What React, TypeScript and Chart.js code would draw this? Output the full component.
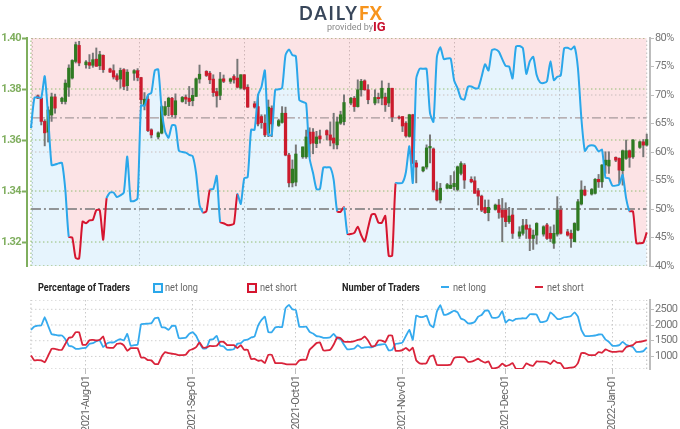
import { useEffect, useRef } from "react"
import { Chart, registerables } from "chart.js"

Chart.register(...registerables)

// x axis is "days since 2021-08-01", so month grid lines fall where they should
const firstDay = -16
const lastDay = 163
const monthDays = [0, 31, 61, 92, 122, 153]
const monthLabels = ["2021-Aug-01", "2021-Sep-01", "2021-Oct-01", "2021-Nov-01", "2021-Dec-01", "2022-Jan-01"]

const priceTicks = [1.32, 1.34, 1.36, 1.38, 1.4]
const percentTicks = [40, 45, 50, 55, 60, 65, 70, 75, 80]
const traderTicks = [1000, 1500, 2000, 2500]

// candles, one line per week (Sunday to Friday)
const candleDays = [
  -14, -13, -12, -11, -10, -9, -7, -6, -5, -4, -3, -2, 0, 1, 2, 3, 4, 5, 7, 8, 9, 10, 11, 12,
  14, 15, 16, 17, 18, 19, 21, 22, 23, 24, 25, 26, 28, 29, 30, 31, 32, 33, 35, 36, 37, 38, 39, 40,
  42, 43, 44, 45, 46, 47, 49, 50, 51, 52, 53, 54, 56, 57, 58, 59, 60, 61, 63, 64, 65, 66, 67, 68,
  70, 71, 72, 73, 74, 75, 77, 78, 79, 80, 81, 82, 84, 85, 86, 87, 88, 89, 91, 92, 93, 94, 95, 96,
  98, 99, 100, 101, 102, 103, 105, 106, 107, 108, 109, 110, 112, 113, 114, 115, 116, 117,
  119, 120, 121, 122, 123, 124, 126, 127, 128, 129, 130, 131, 133, 134, 135, 136, 137, 138,
  140, 141, 142, 143, 144, 145, 147, 148, 149, 150, 151, 152, 154, 155, 156, 157, 158, 159, 161, 162, 163,
]
const opens = [
  1.3773, 1.3764, 1.3673, 1.3631, 1.3698, 1.3769,
  1.3751, 1.3751, 1.3807, 1.3843, 1.3908, 1.3971,
  1.3895, 1.3904, 1.3893, 1.3917, 1.3891, 1.3932,
  1.3879, 1.3872, 1.3852, 1.3839, 1.3876, 1.3813,
  1.3862, 1.3872, 1.3845, 1.3738, 1.376, 1.364,
  1.3612, 1.3627, 1.3699, 1.3731, 1.3764, 1.3699,
  1.3751, 1.3768, 1.3764, 1.3754, 1.3771, 1.3839,
  1.3869, 1.3862, 1.3839, 1.379, 1.3775, 1.384,
  1.383, 1.3849, 1.3843, 1.3804, 1.3856, 1.3807,
  1.3742, 1.3731, 1.3692, 1.3666, 1.3627, 1.3725,
  1.3657, 1.3669, 1.3705, 1.3541, 1.3432, 1.3435,
  1.3534, 1.3534, 1.3631, 1.3631, 1.3586, 1.3616,
  1.3637, 1.362, 1.3608, 1.3581, 1.3666, 1.3672,
  1.3745, 1.3764, 1.3731, 1.3797, 1.3832, 1.3797,
  1.3745, 1.3767, 1.3764, 1.3768, 1.3745, 1.3803,
  1.369, 1.3692, 1.3666, 1.3614, 1.3699, 1.351,
  1.3479, 1.3494, 1.3569, 1.3565, 1.3404, 1.3365,
  1.3411, 1.341, 1.3417, 1.3406, 1.3469, 1.3502,
  1.3446, 1.344, 1.3401, 1.338, 1.3336, 1.3315,
  1.3328, 1.3345, 1.3325, 1.3325, 1.328, 1.3306,
  1.3223, 1.3234, 1.3267, 1.3253, 1.3214, 1.3227,
  1.3231, 1.3267, 1.3234, 1.3195, 1.3231, 1.3325,
  1.324, 1.3234, 1.3201, 1.3247, 1.3349, 1.3404,
  1.3388, 1.3391, 1.3446, 1.3436, 1.3502, 1.3498,
  1.3532, 1.3528, 1.348, 1.3528, 1.3558, 1.3534,
  1.3571, 1.3593, 1.358,
]
const highs = [
  1.3777, 1.3767, 1.368, 1.373, 1.3784, 1.378,
  1.3768, 1.3836, 1.3895, 1.3915, 1.3984, 1.3987,
  1.3911, 1.3935, 1.3941, 1.3961, 1.3948, 1.3934,
  1.3882, 1.3895, 1.386, 1.3882, 1.388, 1.3876,
  1.3876, 1.388, 1.3846, 1.3786, 1.3777, 1.3644,
  1.3632, 1.3734, 1.3751, 1.3768, 1.3767, 1.3781,
  1.3771, 1.3777, 1.381, 1.3803, 1.3843, 1.3894,
  1.3872, 1.3869, 1.3856, 1.3803, 1.3865, 1.3855,
  1.3843, 1.3856, 1.3917, 1.3856, 1.3856, 1.3817,
  1.3751, 1.3777, 1.3699, 1.3699, 1.3757, 1.3734,
  1.3682, 1.3731, 1.3729, 1.3548, 1.3522, 1.3581,
  1.3573, 1.3639, 1.3648, 1.3645, 1.3634, 1.3639,
  1.364, 1.3671, 1.3705, 1.369, 1.3713, 1.3777,
  1.3767, 1.3771, 1.3836, 1.3838, 1.3836, 1.3817,
  1.3797, 1.3784, 1.3832, 1.3784, 1.3823, 1.3803,
  1.3695, 1.3692, 1.3672, 1.3701, 1.3701, 1.352,
  1.3495, 1.3581, 1.362, 1.3569, 1.3436, 1.343,
  1.343, 1.3461, 1.3476, 1.3498, 1.3515, 1.3508,
  1.3456, 1.3456, 1.341, 1.3384, 1.3365, 1.3365,
  1.3349, 1.3367, 1.3371, 1.3354, 1.3336, 1.3332,
  1.326, 1.3289, 1.3289, 1.3267, 1.3247, 1.3276,
  1.3264, 1.3273, 1.326, 1.3267, 1.3378, 1.3341,
  1.325, 1.3247, 1.3276, 1.3367, 1.344, 1.3419,
  1.341, 1.3449, 1.3465, 1.3504, 1.3554, 1.3554,
  1.3534, 1.353, 1.3561, 1.36, 1.3561, 1.3602,
  1.3596, 1.3602, 1.3623,
]
const lows = [
  1.3762, 1.3659, 1.3577, 1.3592, 1.3673, 1.3705,
  1.3742, 1.3741, 1.3771, 1.3839, 1.3902, 1.3891,
  1.3882, 1.388, 1.3885, 1.3889, 1.3876, 1.3865,
  1.3865, 1.3839, 1.383, 1.3803, 1.3797, 1.3794,
  1.3834, 1.3832, 1.3742, 1.3718, 1.3633, 1.3608,
  1.3604, 1.3624, 1.3695, 1.3695, 1.3692, 1.3686,
  1.3748, 1.3742, 1.3735, 1.3734, 1.3771, 1.3823,
  1.3849, 1.3821, 1.3771, 1.3729, 1.3758, 1.3825,
  1.3822, 1.3823, 1.3804, 1.38, 1.3797, 1.3728,
  1.3725, 1.3655, 1.3646, 1.3613, 1.3613, 1.3613,
  1.3653, 1.3666, 1.3538, 1.3416, 1.3416, 1.342,
  1.3528, 1.3528, 1.3534, 1.3546, 1.357, 1.3588,
  1.36, 1.3577, 1.3565, 1.3565, 1.3661, 1.3659,
  1.3738, 1.3712, 1.3729, 1.3772, 1.3795, 1.3742,
  1.3738, 1.3745, 1.3738, 1.3712, 1.3731, 1.3672,
  1.3682, 1.3633, 1.3611, 1.3611, 1.3507, 1.3432,
  1.3475, 1.3486, 1.351, 1.3396, 1.3361, 1.3353,
  1.3408, 1.341, 1.3404, 1.34, 1.3463, 1.341,
  1.3432, 1.3391, 1.3345, 1.3319, 1.3312, 1.3283,
  1.3325, 1.3293, 1.3201, 1.326, 1.3273, 1.3214,
  1.3214, 1.3227, 1.3214, 1.3166, 1.3171, 1.3192,
  1.3223, 1.321, 1.3201, 1.3175, 1.3223, 1.3231,
  1.3223, 1.3179, 1.3201, 1.3244, 1.3345, 1.3381,
  1.3384, 1.3388, 1.3414, 1.3414, 1.3469, 1.3469,
  1.3515, 1.343, 1.3423, 1.3524, 1.3493, 1.3528,
  1.3567, 1.3534, 1.3576,
]
const closes = [
  1.3764, 1.3673, 1.3628, 1.3718, 1.3769, 1.3725,
  1.3764, 1.3823, 1.3882, 1.3912, 1.3974, 1.3902,
  1.3906, 1.3893, 1.3915, 1.3889, 1.3935, 1.3876,
  1.3866, 1.3847, 1.3836, 1.3873, 1.381, 1.3866,
  1.3872, 1.3845, 1.3758, 1.376, 1.3637, 1.362,
  1.3628, 1.3731, 1.3731, 1.3764, 1.3699, 1.3754,
  1.3767, 1.376, 1.3751, 1.3775, 1.384, 1.3858,
  1.3853, 1.3836, 1.3786, 1.3773, 1.3839, 1.383,
  1.384, 1.3836, 1.3807, 1.3856, 1.38, 1.3729,
  1.3729, 1.3663, 1.3668, 1.362, 1.3729, 1.3663,
  1.3676, 1.3705, 1.3541, 1.3432, 1.3486, 1.3545,
  1.3573, 1.3612, 1.3585, 1.3588, 1.3612, 1.3604,
  1.362, 1.36, 1.3588, 1.3671, 1.3699, 1.3747,
  1.3764, 1.3731, 1.3797, 1.383, 1.3797, 1.3758,
  1.3767, 1.3762, 1.3803, 1.3738, 1.3803, 1.369,
  1.3686, 1.3655, 1.3616, 1.3699, 1.351, 1.3494,
  1.3494, 1.3569, 1.3575, 1.3404, 1.3365, 1.3411,
  1.3425, 1.3423, 1.343, 1.3495, 1.3508, 1.3443,
  1.3436, 1.3391, 1.338, 1.3325, 1.3315, 1.3336,
  1.3345, 1.3316, 1.3297, 1.328, 1.3302, 1.3234,
  1.324, 1.3264, 1.325, 1.3214, 1.3227, 1.3273,
  1.326, 1.3214, 1.3214, 1.3234, 1.3325, 1.3234,
  1.3227, 1.3214, 1.3273, 1.3358, 1.3404, 1.3384,
  1.3406, 1.3446, 1.3436, 1.3502, 1.3521, 1.3521,
  1.3521, 1.3482, 1.3558, 1.3558, 1.3532, 1.36,
  1.3593, 1.358, 1.3602,
]

// percent net long, one value per day from firstDay to lastDay
const percentLong = [
  64.2, 69.5, 69.6, 69.5, 73.3, 66.2, 57.7, 57.8, 58, 58.1, 53.3, 45.1, 45, 41.4, 41.3, 47.8,
  47.5, 48, 48.1, 49.8, 49.8, 44.6, 51.9, 52.9, 52.9, 52.1, 52.4, 52.9, 59.2, 51.4, 51.4, 51.9,
  68.2, 68.1, 70, 70.4, 74.3, 74.5, 67.4, 63.6, 62.5, 64.7, 64.6, 60.2, 60, 59.9, 59.5, 59.3,
  56.3, 50.7, 49.4, 49.6, 53.4, 53.5, 55.8, 47.7, 47.5, 47.2, 47.2, 47.4, 52.6, 50.9, 55.4, 55.6,
  63.9, 63.9, 70, 71.4, 74.3, 63, 63, 70.9, 71, 71.2, 77, 78, 77, 76.8, 69.1, 68.8,
  68.5, 58.9, 56.3, 53.5, 53.5, 57.3, 57.3, 57.3, 55.1, 49.6, 49.5, 50.3, 45.6, 45.6, 45.8, 46.9,
  45.4, 44.3, 46.7, 49, 49.1, 47.6, 47.6, 48.8, 41.8, 41.8, 54.5, 54.5, 54.6, 56.5, 61, 54.6,
  72.9, 74.6, 74.6, 74.6, 66.8, 65.3, 76.7, 78.4, 76.3, 76.4, 76.4, 72.6, 71.2, 69.4, 69.2, 71.4,
  71.5, 71.2, 71.2, 73.2, 75.4, 74.3, 77.9, 78, 77.6, 76.3, 75.1, 75, 72.9, 78.5, 78.6, 78.2,
  73.7, 75.9, 76.7, 73.5, 72.2, 72.1, 72.4, 75.9, 72.6, 73.2, 73.4, 78.2, 78.3, 78, 78.5, 74.7,
  65.9, 60.2, 61, 61.2, 61, 60.1, 60.4, 55.5, 55.4, 54.1, 54.1, 54.3, 56, 51.9, 49.6, 49.6,
  44, 44, 44.1, 45.9,
]

// number of traders, same days as percentLong
const tradersLong = [
  1845, 1950, 1983, 1983, 2247, 1972, 1708, 1687, 1666, 1666, 1550, 1338, 1317, 1243, 1243, 1264,
  1275, 1402, 1423, 1486, 1507, 1296, 1402, 1444, 1444, 1507, 1550, 1507, 1719, 1338, 1360, 1370,
  2025, 2035, 2046, 2056, 2215, 2236, 1930, 1919, 1845, 1972, 1972, 1581, 1581, 1592, 1719, 1771,
  1655, 1423, 1254, 1254, 1528, 1550, 1655, 1338, 1317, 1212, 1212, 1233, 1402, 1423, 1518, 1539,
  1602, 1634, 1972, 2162, 2268, 1771, 1771, 1919, 1940, 1930, 2532, 2637, 2500, 2479, 1950, 1940,
  1950, 1782, 1729, 1645, 1634, 1592, 1592, 1613, 1719, 1581, 1550, 1370, 1222, 1233, 1254, 1360,
  1275, 1285, 1296, 1285, 1338, 1370, 1381, 1391, 1190, 1212, 1402, 1412, 1444, 1655, 1845, 1528,
  2300, 2257, 2257, 2300, 2004, 1930, 2426, 2637, 2331, 2342, 2394, 2458, 2405, 2204, 2162, 2056,
  2056, 2099, 2268, 2320, 2458, 2458, 2236, 2226, 2268, 2437, 2078, 2173, 2130, 2194, 2204, 2215,
  2215, 2342, 2342, 2331, 2099, 2099, 2141, 2405, 2310, 2194, 2194, 2247, 2257, 2289, 2405, 2268,
  1845, 1655, 1645, 1655, 1666, 1698, 1698, 1539, 1465, 1338, 1338, 1360, 1465, 1370, 1338, 1296,
  1148, 1148, 1169, 1285,
]
const tradersShort = [
  1032, 874, 884, 874, 811, 1022, 1243, 1243, 1212, 1212, 1402, 1592, 1613, 1771, 1771, 1370,
  1370, 1518, 1528, 1507, 1528, 1634, 1285, 1275, 1275, 1402, 1412, 1349, 1180, 1264, 1264, 1264,
  969, 958, 884, 874, 758, 758, 1000, 1138, 1106, 1085, 1074, 1043, 1043, 1053, 1191, 1233,
  1296, 1444, 1285, 1285, 1338, 1327, 1338, 1465, 1465, 1360, 1360, 1360, 1264, 1360, 1212, 1212,
  916, 926, 863, 874, 789, 1053, 1053, 789, 789, 789, 758, 747, 747, 747, 874, 895,
  895, 1212, 1317, 1423, 1444, 1191, 1191, 1212, 1381, 1602, 1581, 1465, 1465, 1465, 1486, 1528,
  1550, 1634, 1507, 1317, 1338, 1507, 1507, 1455, 1666, 1666, 1180, 1180, 1201, 1275, 1180, 1275,
  874, 779, 768, 789, 1000, 1032, 726, 726, 726, 726, 737, 948, 979, 979, 969, 832,
  832, 874, 926, 853, 800, 842, 631, 631, 663, 768, 694, 726, 789, 600, 600, 620,
  779, 726, 705, 842, 832, 832, 821, 758, 874, 800, 779, 620, 631, 641, 663, 789,
  1106, 1106, 1053, 1043, 1043, 1138, 1117, 1222, 1180, 1148, 1148, 1159, 1159, 1296, 1338, 1360,
  1455, 1465, 1486, 1518,
]

const BLUE = "#2aa7ea"
const RED = "#d5152f"
const CANDLE_UP = "#2f7a22"
const CANDLE_DOWN = "#cc1a2c"
const WICK = "#777777"
const DOTS = [1.5, 2.5]
const FONT = "Roboto"

const days = percentLong.map((_, i) => firstDay + i)
const toPoints = (values: number[]) => values.map((y, i) => ({ x: days[i], y }))

// the original axis font is a condensed one, tighten the spacing to get close
const tightText = {
  id: "tightText",
  beforeDraw: (chart: any) => {
    chart.ctx.letterSpacing = "-0.6px"
  },
}

// dotted frame and level lines are plain two point line datasets
function rule(points: { x: number; y: number }[], yAxisID: string, color: string, dash: number[], width = 1) {
  return {
    type: "line",
    data: points,
    yAxisID,
    borderColor: color,
    borderWidth: width,
    borderDash: dash,
    pointRadius: 0,
    fill: false,
    order: 5,
  }
}
const hRule = (y: number, axis: string, color: string, dash: number[], width = 1) =>
  rule([{ x: firstDay, y }, { x: lastDay, y }], axis, color, dash, width)
const vRule = (x: number, y0: number, y1: number, axis: string, color: string) =>
  rule([{ x, y: y0 }, { x, y: y1 }], axis, color, DOTS)

const xRange = { type: "linear", min: -17.15, max: 163.95, offset: false }
const monthTicks = (scale: any) => {
  scale.ticks = monthDays.map((value) => ({ value }))
}
const fixedTicks = (values: number[]) => (scale: any) => {
  scale.ticks = values.map((value) => ({ value }))
}

function MainChart() {
  const canvasRef = useRef<HTMLCanvasElement>(null)

  useEffect(() => {
    if (!canvasRef.current) return
    const priceMin = 1.3106
    const chart = new Chart(canvasRef.current, {
      type: "line",
      plugins: [tightText],
      data: {
        datasets: [
          {
            data: candleDays.map((x, i) => ({ x, y: [Math.min(opens[i], closes[i]), Math.max(opens[i], closes[i])] })),
            type: "bar",
            yAxisID: "price",
            grouped: false,
            barThickness: 2.6,
            minBarLength: 1,
            backgroundColor: candleDays.map((_, i) => (closes[i] >= opens[i] ? CANDLE_UP : CANDLE_DOWN)),
            order: 2,
          },
          {
            data: candleDays.map((x, i) => ({ x, y: [lows[i], highs[i]] })),
            type: "bar",
            yAxisID: "price",
            grouped: false,
            barThickness: 1.3,
            backgroundColor: WICK,
            order: 3,
          },
          {
            type: "line",
            data: toPoints(percentLong),
            yAxisID: "percent",
            borderWidth: 2,
            borderColor: BLUE,
            segment: { borderColor: (ctx: any) => (ctx.p0.parsed.y >= 50 ? BLUE : RED) },
            tension: 0.2,
            pointRadius: 0,
            fill: false,
            order: 1,
          },
          {
            type: "line",
            data: toPoints(percentLong),
            yAxisID: "percent",
            borderWidth: 0,
            tension: 0.2,
            pointRadius: 0,
            fill: "start",
            backgroundColor: "rgba(60, 170, 240, 0.13)",
            order: 10,
          },
          {
            type: "line",
            data: toPoints(percentLong),
            yAxisID: "percent",
            borderWidth: 0,
            tension: 0.2,
            pointRadius: 0,
            fill: "end",
            backgroundColor: "rgba(235, 70, 80, 0.15)",
            order: 10,
          },
          hRule(1.4, "price", "#a3ab78", DOTS, 1.4),
          hRule(1.38, "price", "#93bd72", DOTS),
          hRule(1.36, "price", "#93bd72", DOTS),
          hRule(1.34, "price", "#93bd72", DOTS),
          hRule(1.32, "price", "#93bd72", DOTS),
          hRule(priceMin, "price", "#a9c690", DOTS, 1.4),
          vRule(firstDay, priceMin, 1.4, "price", "#93bd72"),
          vRule(lastDay, priceMin, 1.4, "price", "#bdbdbd"),
          hRule(70, "percent", "#c9bcbc", DOTS),
          hRule(60, "percent", "#c9bcbc", DOTS),
          hRule(66, "percent", "#a89a9c", [9, 3, 2, 3], 1.2),
          hRule(50, "percent", "#777777", [10, 3, 2, 3], 1.6),
        ] as any,
      },
      options: {
        responsive: false,
        animation: false,
        layout: { padding: { top: 38, bottom: 24 } },
        plugins: { legend: { display: false }, tooltip: { enabled: false } },
        scales: {
          x: {
            ...xRange,
            afterBuildTicks: monthTicks,
            ticks: { display: false },
            border: { display: false, dash: DOTS },
            grid: { color: "#c9c9c9", drawTicks: false },
          },
          price: {
            type: "linear",
            position: "left",
            min: priceMin,
            max: 1.4,
            afterBuildTicks: fixedTicks(priceTicks),
            afterFit: (scale: any) => {
              scale.width = 27
            },
            border: { color: "#7fae5e", width: 2 },
            grid: { drawOnChartArea: false, tickLength: 5, tickColor: "#7fae5e", tickWidth: 2 },
            ticks: {
              color: "#7fae5e",
              padding: 1,
              font: { family: FONT, size: 11, weight: "bold" },
              callback: (v: any) => Number(v).toFixed(2),
            },
          },
          percent: {
            type: "linear",
            position: "right",
            min: 40,
            max: 80,
            afterBuildTicks: fixedTicks(percentTicks),
            afterFit: (scale: any) => {
              scale.width = 30
            },
            border: { color: "#bdbdbd", width: 2 },
            grid: { drawOnChartArea: false, tickLength: 4, tickColor: "#bdbdbd" },
            ticks: {
              color: "#777777",
              padding: 1,
              font: { family: FONT, size: 11 },
              callback: (v: any) => `${v}%`,
            },
          },
        } as any,
      },
    })
    return () => chart.destroy()
  }, [])

  return <canvas ref={canvasRef} width={680} height={290} style={{ position: "absolute", left: 0, top: 0 }} />
}

function TradersChart() {
  const canvasRef = useRef<HTMLCanvasElement>(null)

  useEffect(() => {
    if (!canvasRef.current) return
    const traderMin = 600
    const traderMax = 2796
    const chart = new Chart(canvasRef.current, {
      type: "line",
      plugins: [tightText],
      data: {
        datasets: [
          {
            data: toPoints(tradersLong),
            borderColor: "#35aaee",
            borderWidth: 1.8,
            tension: 0.1,
            pointRadius: 0,
            yAxisID: "traders",
            order: 2,
          },
          {
            data: toPoints(tradersShort),
            borderColor: "#d9233a",
            borderWidth: 1.8,
            tension: 0.1,
            pointRadius: 0,
            yAxisID: "traders",
            order: 1,
          },
          hRule(traderMax, "traders", "#bdbdbd", DOTS, 1.2),
          hRule(2500, "traders", "#cfcfcf", DOTS),
          hRule(2000, "traders", "#cfcfcf", DOTS),
          hRule(1500, "traders", "#cfcfcf", DOTS),
          hRule(1000, "traders", "#cfcfcf", DOTS),
          hRule(traderMin, "traders", "#bdbdbd", DOTS, 1.2),
          vRule(firstDay, traderMin, traderMax, "traders", "#bdbdbd"),
          vRule(lastDay, traderMin, traderMax, "traders", "#bdbdbd"),
        ] as any,
      },
      options: {
        responsive: false,
        animation: false,
        layout: { padding: { top: 10, left: 27 } },
        plugins: { legend: { display: false }, tooltip: { enabled: false } },
        scales: {
          x: {
            ...xRange,
            afterBuildTicks: monthTicks,
            afterFit: (scale: any) => {
              scale.height = 60
            },
            border: { display: false, dash: DOTS },
            grid: { color: "#c9c9c9", tickLength: 5, tickColor: "#bdbdbd", tickBorderDash: [] },
            ticks: {
              color: "#666666",
              minRotation: 90,
              maxRotation: 90,
              autoSkip: false,
              padding: 2,
              font: { family: FONT, size: 11 },
              callback: (v: any) => monthLabels[monthDays.indexOf(Number(v))],
            },
          },
          traders: {
            type: "linear",
            position: "right",
            min: traderMin,
            max: traderMax,
            afterBuildTicks: fixedTicks(traderTicks),
            afterFit: (scale: any) => {
              scale.width = 30
            },
            border: { color: "#bdbdbd", width: 2 },
            grid: { drawOnChartArea: false, tickLength: 4, tickColor: "#bdbdbd" },
            ticks: {
              color: "#777777",
              padding: 1,
              font: { family: FONT, size: 11 },
              callback: (v: any) => String(v),
            },
          },
        } as any,
      },
    })
    return () => chart.destroy()
  }, [])

  return <canvas ref={canvasRef} width={680} height={139} style={{ position: "absolute", left: 0, top: 290 }} />
}

function Label({ x, y, text, bold, color = "#666666", size = 11.5, squeeze = 0.8 }: any) {
  return (
    <div
      style={{
        position: "absolute",
        left: x,
        top: y,
        fontFamily: FONT,
        fontSize: size,
        fontWeight: bold ? 700 : 400,
        color,
        whiteSpace: "nowrap",
        lineHeight: "14px",
        transform: `scaleX(${squeeze})`,
        transformOrigin: "left center",
      }}
    >
      {text}
    </div>
  )
}

function Swatch({ x, color }: { x: number; color: string }) {
  return (
    <div
      style={{
        position: "absolute",
        left: x,
        top: 283,
        width: 6,
        height: 6,
        border: `2px solid ${color}`,
        background: "#eef7fc",
      }}
    />
  )
}

function Dash({ x, color }: { x: number; color: string }) {
  return <div style={{ position: "absolute", left: x, top: 286, width: 8, height: 2, background: color }} />
}

export default function App() {
  return (
    <div style={{ position: "absolute", left: 0, top: 0, width: 680, height: 429, background: "#fff", overflow: "hidden" }}>
      <MainChart />
      <TradersChart />

      <div
        style={{
          position: "absolute",
          left: 299,
          top: 2,
          fontFamily: "Lato",
          fontSize: 18,
          fontWeight: 700,
          letterSpacing: 1.9,
          color: "#38465a",
          whiteSpace: "nowrap",
        }}
      >
        DAILY<span style={{ color: "#f7941d", fontWeight: 900, letterSpacing: 0.6 }}>FX</span>
      </div>
      <Label x={327} y={20} text="provided by" color="#8a8a8a" size={9} squeeze={1} />
      <Label x={373} y={20} text="IG" color="#c8102e" size={13} bold squeeze={1} />

      <Label x={38} y={280} text="Percentage of Traders" bold color="#222222" />
      <Swatch x={153} color={BLUE} />
      <Label x={165} y={280} text="net long" />
      <Swatch x={247} color={RED} />
      <Label x={260} y={280} text="net short" />
      <Label x={342} y={280} text="Number of Traders" bold color="#222222" />
      <Dash x={441} color="#35aaee" />
      <Label x={453} y={280} text="net long" />
      <Dash x={535} color="#d9233a" />
      <Label x={547} y={280} text="net short" />
    </div>
  )
}
